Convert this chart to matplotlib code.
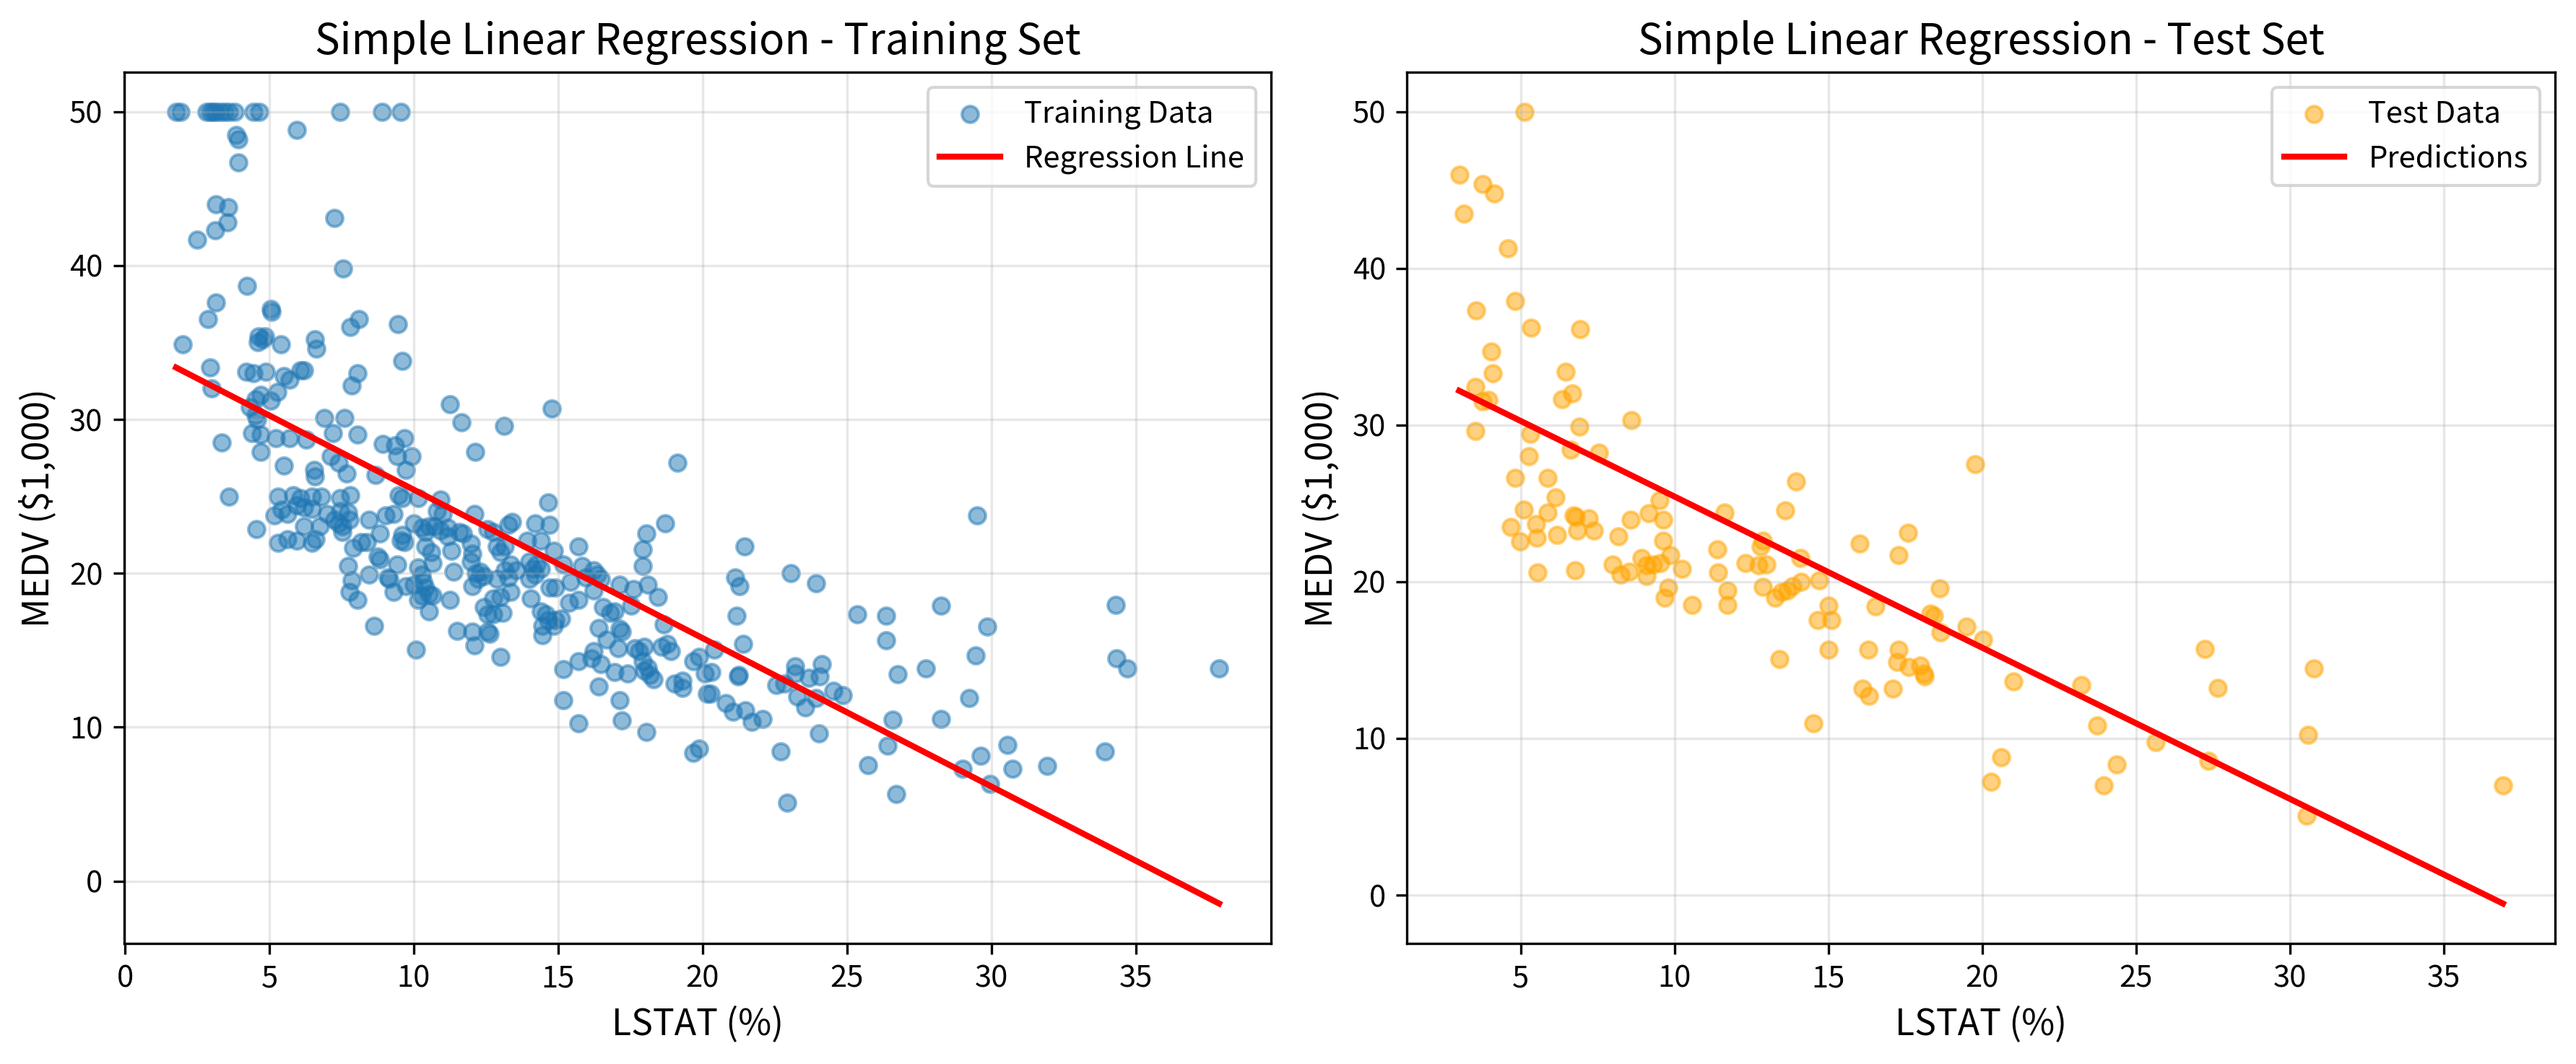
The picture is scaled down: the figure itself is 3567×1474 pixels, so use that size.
import numpy as np
import matplotlib
matplotlib.use("Agg")
import matplotlib.pyplot as plt

plt.rcParams['font.family'] = ['Noto Sans CJK KR', 'DejaVu Sans']
plt.rcParams['axes.unicode_minus'] = False

# ---------------- data ----------------
train_lstat = [
    1.77, 1.93, 2.82, 2.95, 3.05, 3.15, 3.30, 3.45, 3.60, 3.80, 4.45, 4.65, 7.46, 8.90, 9.55,
    5.94, 3.84, 3.93, 3.93, 3.14, 3.57, 3.56, 3.13, 2.49, 7.26, 7.55, 4.23, 3.16, 5.04, 5.08,
    2.88, 8.11, 7.81, 9.46, 2.00, 4.62, 4.78, 4.61, 4.84, 5.40, 6.58, 6.62, 9.59, 2.96, 4.19,
    4.45, 4.88, 5.50, 5.69, 6.08, 6.21, 8.05, 7.85, 3.01, 5.27, 4.71, 4.52, 5.04, 4.32, 4.52,
    4.58, 11.25, 14.78, 6.90, 7.59, 11.65, 13.12, 4.39, 4.71, 5.23, 5.69, 6.28, 7.20, 8.05, 3.36,
    4.71, 8.93, 9.35, 9.68, 9.42, 9.92, 12.13, 19.13, 7.13, 7.39, 7.68, 8.67, 9.72, 5.51, 6.54,
    6.57, 3.60, 5.30, 5.82, 6.08, 6.48, 6.80, 7.46, 7.81, 9.48, 9.61, 10.14, 10.92, 14.65,
    4.54, 5.17, 5.43, 5.63, 5.95, 6.21, 6.48, 5.30, 5.63, 5.95, 6.21, 6.48, 6.61, 6.74, 7.00,
    7.26, 7.46, 7.52, 7.72, 7.78, 7.52, 7.39, 8.18, 8.37, 7.91, 7.72, 7.85, 7.78, 8.05, 8.44,
    8.83, 9.03, 9.29, 8.76, 8.83, 9.42, 9.61, 9.68, 9.55, 8.44, 9.09, 9.16, 9.29, 9.72, 10.01,
    8.63, 10.07, 10.01, 10.27, 10.53, 10.40, 10.73, 10.92, 11.18, 10.99, 10.79, 10.40, 10.60, 10.66, 10.14,
    10.27, 10.33, 10.40, 10.27, 10.53, 10.66, 10.14, 10.53, 11.25, 11.31, 11.38, 11.18, 11.58, 11.71, 11.97,
    12.03, 11.97, 12.16, 12.30, 12.03, 12.23, 12.43, 11.51, 12.03, 12.10, 12.56, 12.62, 12.43, 12.56, 12.75,
    13.08, 13.01, 12.10, 12.56, 12.75, 13.28, 13.41, 12.88, 13.14, 13.01, 13.34, 13.14, 12.88, 13.28, 13.54,
    13.34, 12.75, 13.01, 13.93, 14.19, 14.39, 14.71, 13.99, 14.12, 14.26, 13.99, 14.19, 14.39, 14.06, 14.39,
    14.58, 14.65, 14.45, 14.91, 15.11, 14.84, 14.45, 14.84, 14.71, 14.91, 15.37, 15.17, 15.43, 15.69, 15.69,
    15.82, 15.96, 16.22, 16.22, 16.35, 16.48, 16.41, 16.68, 16.55, 16.81, 16.94, 17.13, 17.20, 17.07, 17.13,
    17.59, 17.53, 16.22, 16.15, 16.48, 16.94, 17.39, 16.41, 15.17, 15.69, 15.17, 15.69, 17.13, 17.20, 18.05,
    17.66, 17.79, 17.98, 17.92, 18.11, 17.98, 18.31, 18.18, 17.92, 18.05, 17.92, 18.11, 18.44, 18.70, 18.64,
    18.57, 18.77, 18.90, 19.03, 19.29, 19.29, 19.68, 19.88, 20.07, 20.14, 19.68, 19.88,
    29.49, 21.45, 21.12, 21.28, 23.05, 23.93, 21.18, 21.41, 20.40, 20.29, 21.25, 21.22, 20.27, 20.79, 21.05,
    21.48, 21.71, 22.07, 22.71, 22.92, 23.21, 23.21, 24.13, 24.06, 23.67, 22.56, 22.82, 23.28, 23.54, 23.93,
    24.52, 24.84, 24.02, 25.34, 26.35, 26.35, 28.24, 29.85, 26.74, 27.72, 29.46, 29.23, 26.58, 28.24, 26.41,
    25.72, 26.71, 28.99, 29.62, 30.56, 30.73, 31.93, 29.94, 33.93, 34.30, 34.32, 34.69, 37.88,
]
train_medv = [
    50.0, 50.0, 50.0, 50.0, 50.0, 50.0, 50.0, 50.0, 50.0, 50.0, 50.0, 50.0, 50.0, 50.0, 50.0,
    48.8, 48.5, 48.2, 46.7, 44.0, 43.8, 42.8, 42.3, 41.7, 43.1, 39.8, 38.7, 37.6, 37.2, 37.0,
    36.5, 36.5, 36.0, 36.2, 34.9, 35.4, 35.2, 35.0, 35.4, 34.9, 35.2, 34.6, 33.8, 33.4, 33.1,
    33.0, 33.1, 32.8, 32.6, 33.2, 33.2, 33.0, 32.2, 32.0, 31.8, 31.6, 31.3, 31.2, 30.8, 30.3,
    30.0, 31.0, 30.7, 30.1, 30.1, 29.8, 29.6, 29.1, 29.0, 28.8, 28.8, 28.7, 29.1, 29.0, 28.5,
    27.9, 28.4, 28.3, 28.8, 27.6, 27.6, 27.9, 27.2, 27.6, 27.2, 26.5, 26.4, 26.7, 27.0, 26.7,
    26.3, 25.0, 25.0, 25.1, 24.9, 25.0, 25.0, 24.9, 25.1, 25.1, 24.9, 24.9, 24.8, 24.6,
    22.85, 23.75, 24.13, 23.84, 24.4, 24.3, 24.2, 21.97, 22.22, 22.12, 23.08, 22.0, 22.2, 23.08, 23.84,
    23.46, 24.03, 23.08, 23.94, 23.46, 22.7, 23.27, 22.02, 22.02, 21.64, 20.49, 19.54, 18.77, 18.29, 23.46,
    22.6, 23.75, 23.84, 21.07, 20.88, 20.59, 22.5, 22.02, 22.12, 19.92, 19.73, 19.63, 18.77, 19.15, 19.25,
    16.57, 15.04, 23.27, 22.98, 23.08, 22.7, 23.08, 22.79, 22.98, 23.84, 24.03, 21.74, 21.35, 20.68, 20.4,
    19.92, 19.44, 19.06, 18.58, 18.67, 18.58, 18.29, 17.53, 18.29, 21.45, 20.11, 22.41, 22.69, 22.6, 21.93,
    21.26, 20.78, 20.01, 20.11, 19.15, 19.63, 19.82, 16.28, 16.19, 15.32, 16.19, 16.09, 17.81, 17.33, 17.33,
    17.43, 14.56, 23.84, 22.89, 22.7, 23.17, 23.36, 21.74, 21.74, 21.35, 20.59, 20.21, 19.63, 19.73, 20.21,
    18.77, 18.39, 18.48, 22.12, 23.27, 22.12, 23.17, 20.78, 20.3, 20.59, 19.63, 19.92, 20.3, 18.39, 17.53,
    17.33, 16.95, 16.57, 16.95, 17.05, 16.57, 16.0, 21.45, 19.06, 19.06, 18.1, 20.59, 19.44, 21.74, 18.29,
    20.49, 19.73, 20.21, 18.87, 19.92, 19.63, 16.47, 15.71, 17.81, 17.43, 17.53, 16.38, 16.19, 15.13, 19.25,
    18.96, 17.91, 14.94, 14.46, 14.08, 13.6, 13.5, 12.65, 13.79, 14.27, 11.78, 10.25, 11.78, 10.44, 9.68,
    15.13, 14.94, 15.23, 14.27, 13.89, 13.7, 13.12, 13.41, 21.55, 22.6, 20.49, 19.25, 18.48, 23.27, 16.66,
    15.23, 15.42, 14.94, 12.84, 13.03, 12.55, 14.27, 14.56, 13.5, 12.17, 8.34, 8.62,
    23.75, 21.74, 19.73, 19.15, 20.01, 19.34, 17.24, 15.42, 15.04, 13.6, 13.41, 13.31, 12.16, 11.59, 11.02,
    11.11, 10.35, 10.54, 8.43, 5.08, 13.98, 13.5, 14.08, 13.31, 13.22, 12.74, 12.84, 11.97, 11.3, 11.88,
    12.36, 12.07, 9.58, 17.33, 17.24, 15.65, 17.91, 16.53, 13.45, 13.83, 14.65, 11.88, 10.48, 10.54, 8.81,
    7.53, 5.65, 7.28, 8.14, 8.87, 7.28, 7.47, 6.33, 8.43, 17.97, 14.46, 13.83, 13.83,
]

test_lstat = [
    5.12, 3.00, 3.75, 4.14, 3.16, 4.59, 4.82, 3.56, 5.33, 6.92, 4.04, 4.08, 6.47, 3.53, 3.77,
    3.96, 6.68, 6.35, 8.60, 3.53, 6.90, 5.31, 6.62, 7.53, 5.27, 4.82, 5.87, 13.96, 19.77, 6.13,
    9.52, 11.63, 5.09, 5.87,
    4.67, 4.98, 5.52, 6.17, 5.49, 6.72, 6.84, 7.21, 7.37, 6.78, 8.17, 8.57, 9.15, 9.63, 9.63,
    5.55, 6.76, 7.98, 8.25, 8.52, 8.93, 9.09, 9.30, 9.54, 9.87, 9.09, 10.24, 9.79, 9.67, 10.56,
    11.38, 11.42, 11.72, 11.72, 12.30, 12.73, 12.98, 12.80, 12.86, 12.86, 13.26, 13.47, 13.66, 13.84, 14.12,
    13.59, 14.09, 14.70, 15.00, 14.66, 15.09, 15.00, 13.41, 14.51, 16.01, 16.54, 16.30, 17.28, 17.58, 17.28,
    17.24, 17.61, 17.98, 18.11, 18.14, 16.11, 16.33, 17.09, 18.32, 18.44, 18.65, 18.63, 19.49, 20.04,
    21.01, 23.22, 23.75, 20.61, 20.30, 24.38, 23.94, 25.64, 27.23, 27.67, 27.35, 30.78, 30.59, 30.55, 36.93,
]
test_medv = [
    50.0, 45.99, 45.39, 44.77, 43.5, 41.29, 37.92, 37.32, 36.23, 36.14, 34.7, 33.31, 33.42, 32.42, 31.51,
    31.6, 32.02, 31.64, 30.33, 29.64, 29.91, 29.42, 28.41, 28.23, 28.01, 26.65, 26.65, 26.41, 27.5, 25.4,
    25.2, 24.4, 24.6, 24.4,
    23.51, 22.57, 22.81, 23.0, 23.66, 24.22, 23.28, 24.03, 23.28, 24.13, 22.91, 23.94, 24.35, 23.94, 22.62,
    20.61, 20.74, 21.12, 20.46, 20.65, 21.5, 21.03, 21.12, 21.21, 21.72, 20.37, 20.84, 19.62, 18.96, 18.54,
    22.06, 20.59, 19.43, 18.54, 21.21, 21.03, 21.12, 22.25, 22.62, 19.65, 18.96, 19.33, 19.43, 19.71, 19.99,
    24.54, 21.53, 20.09, 18.49, 17.55, 17.55, 15.67, 15.05, 10.97, 22.44, 18.45, 15.67, 21.72, 23.13, 15.67,
    14.86, 14.58, 14.63, 14.16, 13.94, 13.17, 12.72, 13.17, 17.96, 17.83, 16.76, 19.56, 17.13, 16.33,
    13.64, 13.41, 10.84, 8.81, 7.24, 8.34, 7.02, 9.75, 15.72, 13.22, 8.56, 14.45, 10.23, 5.05, 7.02,
]

# fitted simple linear regression model
intercept = 35.08
slope = -0.9645

# ---------------- figure ----------------
fig = plt.figure(figsize=(3567 / 300, 1474 / 300), dpi=300)
ax1 = fig.add_axes([0.0481, 0.1136, 0.4454, 0.8187])
ax2 = fig.add_axes([0.5462, 0.1136, 0.4457, 0.8187])

xtr = np.array(train_lstat)
ytr = np.array(train_medv)
xte = np.array(test_lstat)
yte = np.array(test_medv)

ax1.scatter(xtr, ytr, s=30, alpha=0.5, color='#1f77b4', label='Training Data')
xs = np.sort(xtr)
ax1.plot(xs, intercept + slope * xs, color='red', linewidth=2, label='Regression Line')
ax1.set_title('Simple Linear Regression - Training Set', fontsize=14)
ax1.set_xlabel('LSTAT (%)', fontsize=12)
ax1.set_ylabel('MEDV ($1,000)', fontsize=12)
ax1.legend(loc='upper right', fontsize=10)
ax1.grid(True, alpha=0.3)

ax2.scatter(xte, yte, s=30, alpha=0.5, color='orange', label='Test Data')
xs2 = np.sort(xte)
ax2.plot(xs2, intercept + slope * xs2, color='red', linewidth=2, label='Predictions')
ax2.set_title('Simple Linear Regression - Test Set', fontsize=14)
ax2.set_xlabel('LSTAT (%)', fontsize=12)
ax2.set_ylabel('MEDV ($1,000)', fontsize=12)
ax2.legend(loc='upper right', fontsize=10)
ax2.grid(True, alpha=0.3)

fig.savefig('out.png', dpi=300)
